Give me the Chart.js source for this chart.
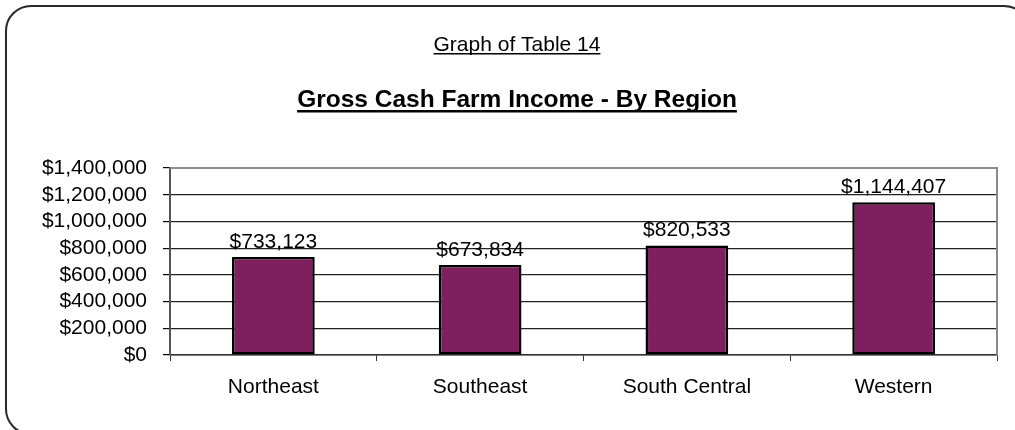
<!DOCTYPE html>
<html>
<head>
<meta charset="utf-8">
<script src="https://cdn.jsdelivr.net/npm/chart.js@4/dist/chart.umd.min.js"></script>
<style>
  html, body { margin: 0; padding: 0; background: #fff; overflow: hidden; }
  #wrap { position: relative; width: 1015px; height: 430px; overflow: hidden; }
  #frame { position: absolute; left: 5px; top: 5px; width: 1025px; height: 430px;
           border: 2px solid #2a2a2a; border-radius: 26px; box-sizing: border-box; }
  canvas { position: absolute; left: 0; top: 0; }
</style>
</head>
<body>
<div id="wrap">
  <div id="frame"></div>
  <canvas id="c" width="1015" height="430"></canvas>
</div>
<script>
const categories = ["Northeast", "Southeast", "South Central", "Western"];
const incomeValues = [733123, 673834, 820533, 1144407];
const yTickValues = [0, 200000, 400000, 600000, 800000, 1000000, 1200000, 1400000];
const subtitleText = "Graph of Table 14";
const titleText = "Gross Cash Farm Income - By Region";

const FONT = "'Liberation Sans', Arial, sans-serif";
const fmt = v => '$' + Number(v).toLocaleString('en-US');

const decorPlugin = {
  id: 'decor',
  afterDraw(chart) {
    const ctx = chart.ctx;
    const ca = chart.chartArea;
    ctx.save();
    // plot area top & right border (gray)
    ctx.strokeStyle = '#8c8c8c';
    ctx.lineWidth = 2;
    ctx.beginPath();
    ctx.moveTo(ca.left, ca.top);
    ctx.lineTo(ca.right, ca.top);
    ctx.lineTo(ca.right, ca.bottom);
    ctx.stroke();

    // titles
    const cx = 517;
    ctx.fillStyle = '#000';
    ctx.textAlign = 'center';
    ctx.textBaseline = 'alphabetic';
    ctx.font = "21px " + FONT;
    ctx.fillText(subtitleText, cx, 51);
    let w = ctx.measureText(subtitleText).width;
    ctx.fillRect(cx - w / 2, 53, w, 1.5);

    ctx.font = "bold 24.5px " + FONT;
    ctx.fillText(titleText, cx, 107);
    w = ctx.measureText(titleText).width;
    ctx.fillRect(cx - w / 2, 110, w, 2.5);

    // data labels
    ctx.font = "21px " + FONT;
    const meta = chart.getDatasetMeta(0);
    meta.data.forEach((bar, i) => {
      const v = chart.data.datasets[0].data[i];
      ctx.fillText(fmt(v), bar.x, bar.y - 9);
    });
    ctx.restore();
  }
};

new Chart(document.getElementById('c'), {
  type: 'bar',
  data: {
    labels: categories,
    datasets: [{
      data: incomeValues,
      backgroundColor: '#7E2060',
      borderColor: '#000',
      borderWidth: 2.5,
      borderSkipped: false,
      barPercentage: 0.4,
      categoryPercentage: 1.0
    }]
  },
  options: {
    responsive: false,
    animation: false,
    devicePixelRatio: 1,
    layout: { padding: { top: 168, right: 18, bottom: 25, left: 0 } },
    plugins: { legend: { display: false }, tooltip: { enabled: false }, title: { display: false } },
    scales: {
      x: {
        offset: true,
        grid: { display: true, drawOnChartArea: false, drawTicks: true, tickLength: 6, color: '#333', offset: true },
        border: { display: true, color: '#333', width: 1.5 },
        ticks: { color: '#000', font: { family: FONT, size: 21 }, padding: 14, maxRotation: 0, autoSkip: false },
        afterFit(scale) { scale.height = 50; }
      },
      y: {
        min: 0, max: 1400000,
        afterBuildTicks(scale) { scale.ticks = yTickValues.map(v => ({ value: v })); },
        grid: {
          color: ctx => (ctx.tick && ctx.tick.value === 1400000) ? '#8c8c8c' : '#222',
          tickColor: '#000',
          tickLength: 7,
          lineWidth: 1.2
        },
        border: { display: true, color: '#555', width: 2 },
        ticks: {
          color: '#000', font: { family: FONT, size: 21 }, padding: 16,
          autoSkip: false,
          callback: v => fmt(v)
        },
        afterFit(scale) { scale.width = 170; }
      }
    }
  },
  plugins: [decorPlugin]
});
</script>
</body>
</html>
